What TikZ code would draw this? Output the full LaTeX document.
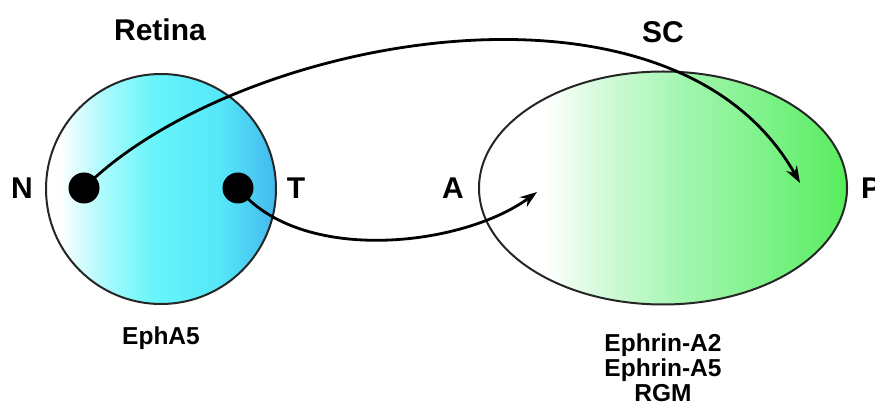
\documentclass[tikz,border=0pt]{standalone}
\usepackage{fontspec}
\setmainfont{Liberation Sans}
\usetikzlibrary{arrows.meta,shapes.geometric,positioning}

\pgfdeclarehorizontalshading{retinashade}{100bp}{color(0bp)=(white); color(28bp)=(white);
  color(37bp)=(rgb,255:red,175;green,250;blue,252); color(48bp)=(rgb,255:red,105;green,245;blue,250);
  color(63bp)=(rgb,255:red,85;green,230;blue,248); color(75bp)=(rgb,255:red,68;green,185;blue,238);
  color(100bp)=(rgb,255:red,68;green,185;blue,238)}
\pgfdeclarehorizontalshading{scshade}{100bp}{color(0bp)=(white); color(34bp)=(white);
  color(42bp)=(rgb,255:red,210;green,250;blue,216); color(52bp)=(rgb,255:red,165;green,246;blue,178);
  color(64bp)=(rgb,255:red,125;green,242;blue,138); color(75bp)=(rgb,255:red,88;green,236;blue,92);
  color(100bp)=(rgb,255:red,88;green,236;blue,92)}

\begin{document}
\begin{tikzpicture}[x=1pt,y=1pt,>={Stealth[length=17pt,width=12pt]},
  region/.style={draw=black!85,line width=2pt},
  dot/.style={circle,fill=black,minimum size=31pt,inner sep=0pt},
  biglabel/.style={font=\fontsize{30}{30}\selectfont\bfseries,inner sep=0pt},
  smalllabel/.style={font=\fontsize{24.5}{25}\selectfont\bfseries,align=center,inner sep=0pt},
  axon/.style={->,line width=2.8pt}]
  \useasboundingbox (0,0) rectangle (875,415);
  % retina and superior colliculus
  \node[region,circle,minimum size=230pt,shading=retinashade] (retina) at (161,226) {};
  \node[region,ellipse,minimum width=368pt,minimum height=233pt,shading=scshade] (sc) at (663,227) {};
  % labels
  \node[biglabel] (rlab) at (160,385) {Retina};
  \node[biglabel] (sclab) at (663,383) {SC};
  \node[biglabel] (nlab) at (22,227) {N};
  \node[biglabel] (tlab) at (296,227) {T};
  \node[biglabel] (alab) at (453,227) {A};
  \node[biglabel,anchor=west] (plab) at (861,227) {P};
  \node[smalllabel] (eph) at (161,77) {EphA5};
  \node[smalllabel] (ephrin) at (663,47) {Ephrin-A2\\Ephrin-A5\\RGM};
  % axons
  \node[dot] (ndot) at (84,227) {};
  \node[dot] (tdot) at (238,227) {};
  \coordinate (ptip) at (800,232);
  \coordinate (atip) at (537,223);
  \draw[axon] (ndot.center) .. controls (234,377) and (670,462) .. (ptip);
  \draw[axon] (tdot.center) .. controls (300,150) and (462,168) .. (atip);
\end{tikzpicture}
\end{document}
